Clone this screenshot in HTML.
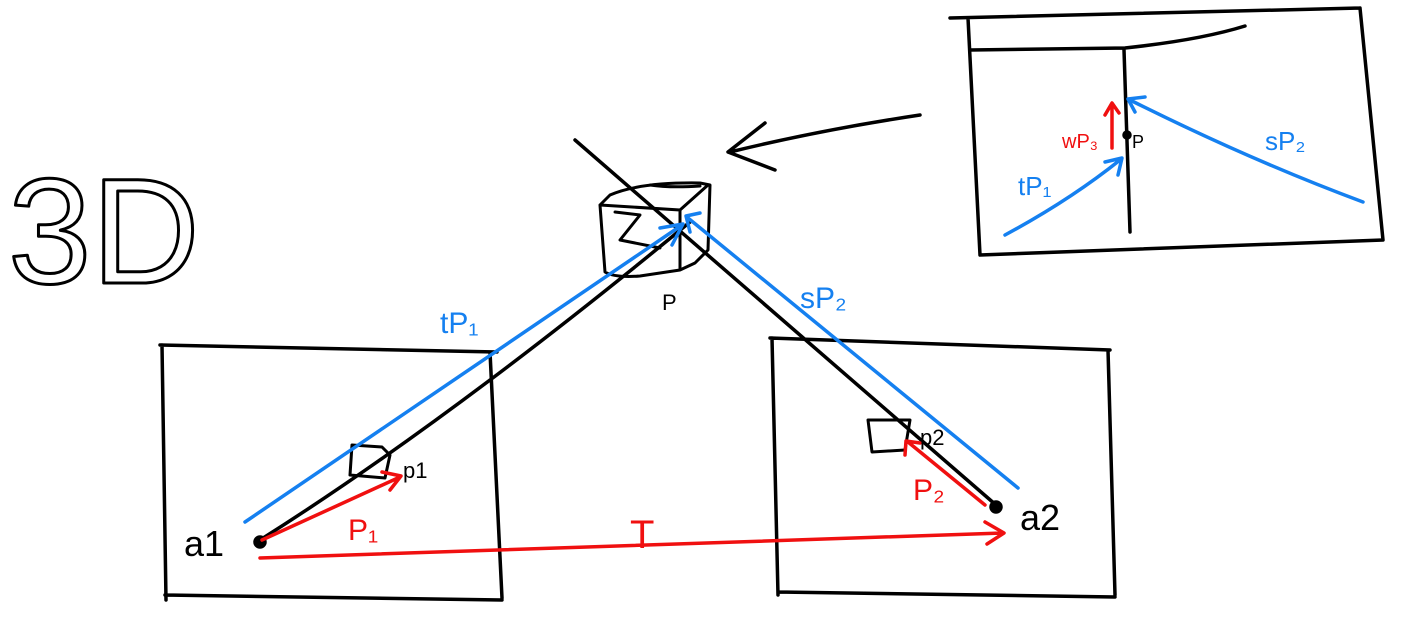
<!DOCTYPE html>
<html><head><meta charset="utf-8"><style>
html,body{margin:0;padding:0;background:#fff;}
svg{display:block}
text{font-family:"Liberation Sans",sans-serif;}
</style></head><body>
<svg width="1403" height="634" viewBox="0 0 1403 634">
<g fill="none" stroke="#000" stroke-width="3.5" stroke-linecap="round" stroke-linejoin="round">
  <text x="8" y="283" font-size="150" fill="none" stroke="#000" stroke-width="3">3D</text>
  <path d="M160 345 L497 352 M162 345 L166 600 M490 352 L502 598 M165 595 L502 600"/>
  <path d="M770 338 L1110 350 M772 338 L778 595 M1108 350 L1115 595 M778 592 L1115 597"/>
  <path d="M950 18 L1360 8 M968 18 L980 255 M1360 8 L1383 240 M980 255 L1383 240 M970 50 L1125 48 Q1200 40 1245 26 M1124 50 L1130 232"/>
  <path d="M920 115 Q820 130 730 152 M765 123 L728 152 L775 170"/>
  <path d="M575 140 L996 505"/>
  <path d="M260 540 Q450 420 690 222"/>
  <path d="M600 205 L610 195 Q640 182 700 183 L710 185 L708 250 L695 263 L680 270 L640 276 Q615 278 605 272 Z M600 205 L680 210 L708 185 M680 210 L680 270 M650 185 Q670 188 700 186 M615 212 L640 215 L620 240 L660 248" stroke-width="3"/>
  <path d="M352 445 L350 475 L385 478 L390 455 L382 447 Z" stroke-width="3"/>
  <path d="M868 420 L872 452 L905 450 L910 420 Z" stroke-width="3"/>
  <circle cx="260" cy="542" r="5" fill="#000"/>
  <circle cx="996" cy="507" r="5" fill="#000"/>
  <circle cx="1127" cy="135" r="3" fill="#000"/>
</g>
<g fill="none" stroke="#1580f0" stroke-width="3.5" stroke-linecap="round" stroke-linejoin="round">
  <path d="M245 522 L682 225 M660 228 L683 224 L672 245"/>
  <path d="M1018 488 L688 218 M700 213 L686 216 L690 232"/>
  <path d="M1005 235 Q1070 200 1120 160 M1105 162 L1122 158 L1118 175"/>
  <path d="M1363 202 Q1250 160 1130 100 M1145 97 L1128 99 L1135 112"/>
</g>
<g fill="none" stroke="#f01010" stroke-width="3.5" stroke-linecap="round" stroke-linejoin="round">
  <path d="M262 540 L400 477 M382 472 L401 476 L390 490"/>
  <path d="M260 558 L1003 533 M985 522 L1004 533 L987 544"/>
  <path d="M985 505 L908 442 M905 455 L906 441 L920 443"/>
  <path d="M1112 148 L1112 105 M1105 115 L1112 103 L1119 113"/>
</g>
<g font-size="30">
  <text x="184" y="556" fill="#000" font-size="36">a1</text>
  <text x="1020" y="530" fill="#000" font-size="36">a2</text>
  <text x="403" y="478" fill="#000" font-size="22">p1</text>
  <text x="920" y="445" fill="#000" font-size="22">p2</text>
  <text x="662" y="310" fill="#000" font-size="22">P</text>
  <text x="1132" y="148" fill="#000" font-size="18">P</text>
  <text x="440" y="333" fill="#1580f0">tP₁</text>
  <text x="800" y="308" fill="#1580f0">sP₂</text>
  <text x="1018" y="195" fill="#1580f0" font-size="26">tP₁</text>
  <text x="1265" y="150" fill="#1580f0" font-size="26">sP₂</text>
  <text x="348" y="540" fill="#f01010">P₁</text>
  <text x="913" y="500" fill="#f01010">P₂</text>
  <text x="630" y="548" fill="#f01010" font-size="40">T</text>
  <text x="1062" y="148" fill="#f01010" font-size="20">wP₃</text>
</g>
</svg>
</body></html>
